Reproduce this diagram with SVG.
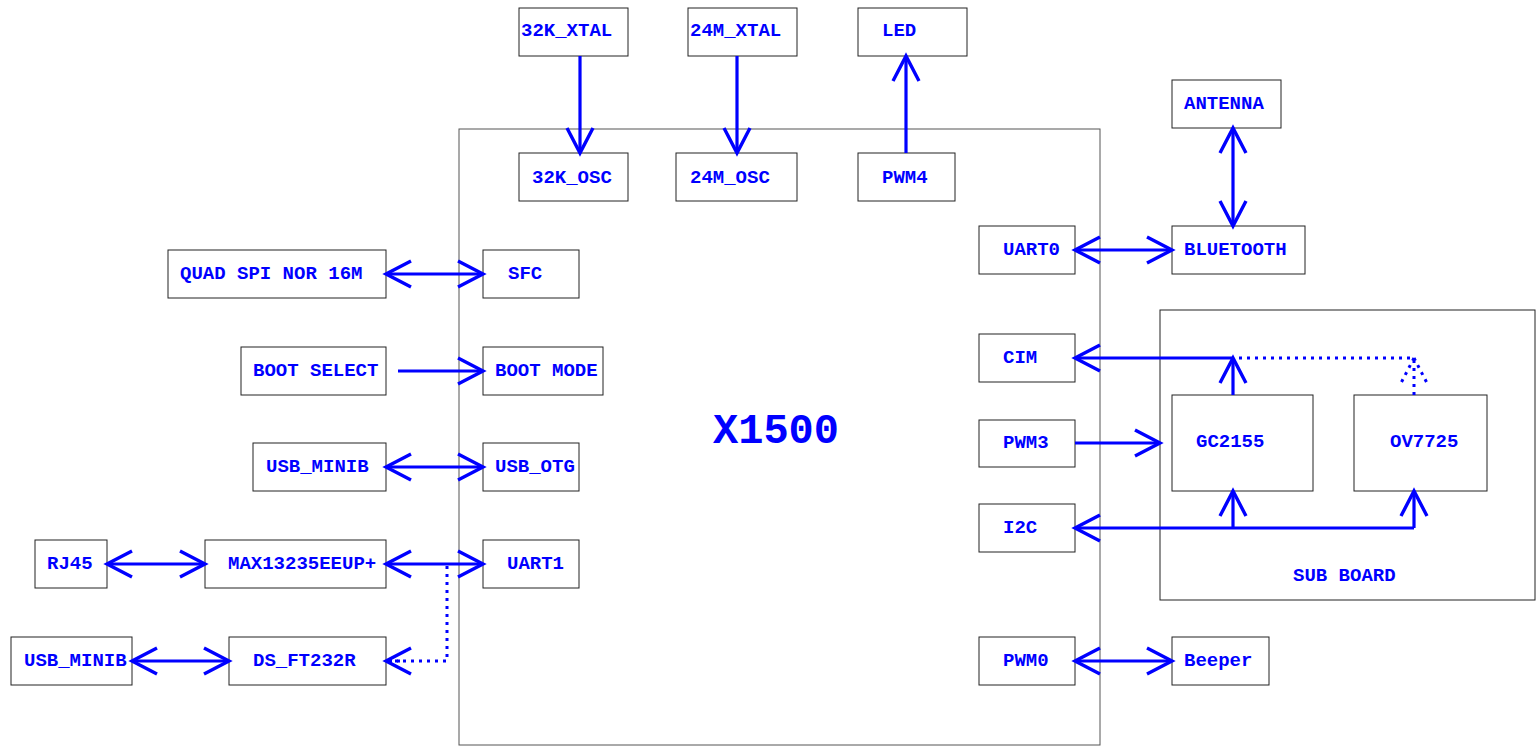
<svg xmlns="http://www.w3.org/2000/svg" width="1536" height="747" viewBox="0 0 1536 747">
<style>
.box{fill:#fff;stroke:#222;stroke-width:1}
.main{fill:none;stroke:#555;stroke-width:1}
.t{font-family:"Liberation Mono","Courier New",monospace;font-weight:bold;font-size:19px;fill:#0000ff}
.big{font-size:42px}
.c{fill:none;stroke:#0000ff;stroke-width:3.2}
.d{fill:none;stroke:#0000ff;stroke-width:3;stroke-dasharray:3 5}
</style>
<defs>
<marker id="ah" markerUnits="userSpaceOnUse" viewBox="-30 -16 32 32" refX="0" refY="0" markerWidth="32" markerHeight="32" orient="auto-start-reverse" overflow="visible">
<path d="M-25,-13 L0,0 L-25,13" fill="none" stroke="#0000ff" stroke-width="3.4"/>
</marker>
</defs>
<rect width="1536" height="747" fill="#fff"/>
<g id="x1500"><rect class="main" x="459" y="129" width="641" height="616"/><text class="t big" x="713" y="443">X1500</text></g>
<g id="subboard"><rect class="box" x="1160" y="310" width="375" height="290"/><text class="t" x="1293" y="581">SUB BOARD</text></g>
<g id="xtal32"><rect class="box" x="519" y="8" width="109" height="48"/><text class="t" x="521" y="36">32K_XTAL</text></g>
<g id="xtal24"><rect class="box" x="688" y="8" width="109" height="48"/><text class="t" x="690" y="36">24M_XTAL</text></g>
<g id="led"><rect class="box" x="858" y="8" width="109" height="48"/><text class="t" x="882" y="36">LED</text></g>
<g id="osc32"><rect class="box" x="519" y="153" width="109" height="48"/><text class="t" x="532" y="183">32K_OSC</text></g>
<g id="osc24"><rect class="box" x="676" y="153" width="121" height="48"/><text class="t" x="690" y="183">24M_OSC</text></g>
<g id="pwm4"><rect class="box" x="858" y="153" width="97" height="48"/><text class="t" x="882" y="183">PWM4</text></g>
<g id="nor"><rect class="box" x="168" y="250" width="218" height="48"/><text class="t" x="180" y="279">QUAD SPI NOR 16M</text></g>
<g id="sfc"><rect class="box" x="483" y="250" width="96" height="48"/><text class="t" x="508" y="279">SFC</text></g>
<g id="bootsel"><rect class="box" x="241" y="347" width="145" height="48"/><text class="t" x="253" y="376">BOOT SELECT</text></g>
<g id="bootmode"><rect class="box" x="483" y="347" width="120" height="48"/><text class="t" x="495" y="376">BOOT MODE</text></g>
<g id="usbminib1"><rect class="box" x="253" y="443" width="133" height="48"/><text class="t" x="266" y="472">USB_MINIB</text></g>
<g id="usbotg"><rect class="box" x="483" y="443" width="96" height="48"/><text class="t" x="495" y="472">USB_OTG</text></g>
<g id="rj45"><rect class="box" x="35" y="540" width="72" height="48"/><text class="t" x="47" y="569">RJ45</text></g>
<g id="max"><rect class="box" x="205" y="540" width="181" height="48"/><text class="t" x="228" y="569">MAX13235EEUP+</text></g>
<g id="uart1"><rect class="box" x="483" y="540" width="96" height="48"/><text class="t" x="507" y="569">UART1</text></g>
<g id="usbminib2"><rect class="box" x="11" y="637" width="121" height="48"/><text class="t" x="24" y="666">USB_MINIB</text></g>
<g id="ft232"><rect class="box" x="229" y="637" width="157" height="48"/><text class="t" x="253" y="666">DS_FT232R</text></g>
<g id="antenna"><rect class="box" x="1172" y="80" width="109" height="48"/><text class="t" x="1184" y="109">ANTENNA</text></g>
<g id="uart0"><rect class="box" x="979" y="226" width="96" height="48"/><text class="t" x="1003" y="255">UART0</text></g>
<g id="bluetooth"><rect class="box" x="1172" y="226" width="133" height="48"/><text class="t" x="1184" y="255">BLUETOOTH</text></g>
<g id="cim"><rect class="box" x="979" y="334" width="96" height="48"/><text class="t" x="1003" y="363">CIM</text></g>
<g id="pwm3"><rect class="box" x="979" y="420" width="96" height="47"/><text class="t" x="1003" y="448">PWM3</text></g>
<g id="i2c"><rect class="box" x="979" y="504" width="96" height="48"/><text class="t" x="1003" y="533">I2C</text></g>
<g id="pwm0"><rect class="box" x="979" y="637" width="96" height="48"/><text class="t" x="1003" y="666">PWM0</text></g>
<g id="beeper"><rect class="box" x="1172" y="637" width="97" height="48"/><text class="t" x="1184" y="666">Beeper</text></g>
<g id="gc2155"><rect class="box" x="1172" y="395" width="141" height="96"/><text class="t" x="1196" y="447">GC2155</text></g>
<g id="ov7725"><rect class="box" x="1354" y="395" width="133" height="96"/><text class="t" x="1390" y="447">OV7725</text></g>
<g id="connectors">
<path class="c" d="M580,56 V153" marker-end="url(#ah)"/>
<path class="c" d="M737,56 V153" marker-end="url(#ah)"/>
<path class="c" d="M906,153 V56" marker-end="url(#ah)"/>
<path class="c" d="M386,274 H483" marker-start="url(#ah)" marker-end="url(#ah)"/>
<path class="c" d="M398,371 H483" marker-end="url(#ah)"/>
<path class="c" d="M386,467 H483" marker-start="url(#ah)" marker-end="url(#ah)"/>
<path class="c" d="M107,564 H205" marker-start="url(#ah)" marker-end="url(#ah)"/>
<path class="c" d="M386,564 H483" marker-start="url(#ah)" marker-end="url(#ah)"/>
<path class="c" d="M132,661 H229" marker-start="url(#ah)" marker-end="url(#ah)"/>
<path class="d" d="M447,566 V661 H389"/>
<path class="c" d="M400,661 H386" marker-end="url(#ah)" stroke-dasharray="3 5"/>
<path class="c" d="M1233,128 V226" marker-start="url(#ah)" marker-end="url(#ah)"/>
<path class="c" d="M1075,250 H1172" marker-start="url(#ah)" marker-end="url(#ah)"/>
<path class="c" d="M1233,358 H1075" marker-end="url(#ah)"/>
<path class="c" d="M1233,395 V358" marker-end="url(#ah)"/>
<path class="d" d="M1239,358 H1414"/>
<path class="d" d="M1414,395 V358"/>
<path class="d" d="M1414,358 L1401,383"/>
<path class="d" d="M1414,358 L1427,383"/>
<path class="c" d="M1075,443 H1160" marker-end="url(#ah)"/>
<path class="c" d="M1414,528 H1075" marker-end="url(#ah)"/>
<path class="c" d="M1233,528 V491" marker-end="url(#ah)"/>
<path class="c" d="M1414,528 V491" marker-end="url(#ah)"/>
<path class="c" d="M1075,661 H1172" marker-start="url(#ah)" marker-end="url(#ah)"/>
</g>
</svg>
